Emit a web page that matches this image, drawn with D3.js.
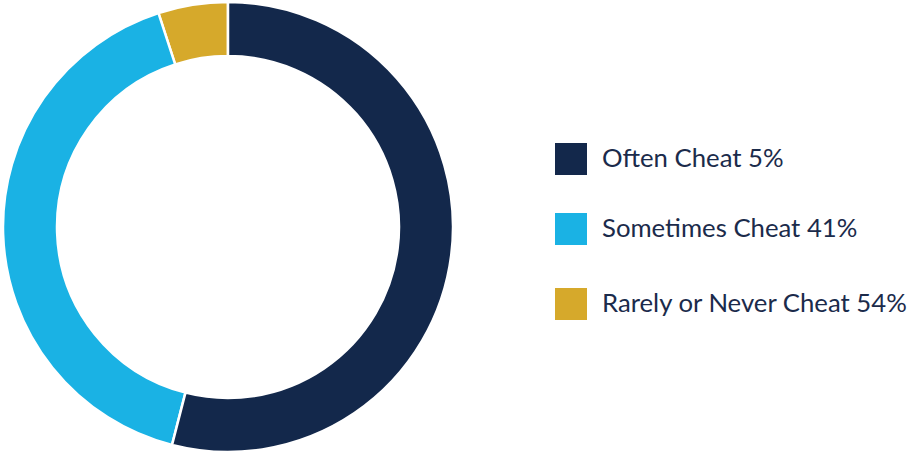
<!DOCTYPE html>
<html>
<head>
<meta charset="utf-8">
<script src="https://cdn.jsdelivr.net/npm/d3@7"></script>
<style>
  html, body { margin: 0; padding: 0; background: #ffffff; }
  svg { display: block; }
</style>
</head>
<body>
<svg id="chart" width="909" height="452"></svg>
<script>
// Survey shares
const categories = ["Often Cheat", "Sometimes Cheat", "Rarely or Never Cheat"];
const values = [5, 41, 54];
const legendColors = ["#13284b", "#1ab2e4", "#d6a92b"];
// Ring colours, one per category, as printed in the ring
const sliceColors = ["#d6a92b", "#1ab2e4", "#13284b"];

const svg = d3.select("#chart");
const cx = 228, cy = 227, outerR = 225, innerR = 171;

// Slices run counter-clockwise from twelve o'clock
const pie = d3.pie().sort(null).value(d => d).startAngle(0).endAngle(-2 * Math.PI);
const arc = d3.arc().innerRadius(innerR).outerRadius(outerR);

svg.append("g")
  .attr("transform", `translate(${cx},${cy})`)
  .selectAll("path")
  .data(pie(values))
  .join("path")
  .attr("d", arc)
  .attr("fill", (d, i) => sliceColors[i])
  .attr("stroke", "#ffffff")
  .attr("stroke-width", 2.5);

// Legend
const legendX = 555, sw = 32;
const rowTops = [143, 213, 288];
const legend = svg.append("g");
const rows = legend.selectAll("g")
  .data(categories)
  .join("g")
  .attr("transform", (d, i) => `translate(${legendX},${rowTops[i]})`);

rows.append("rect")
  .attr("width", sw).attr("height", sw)
  .attr("fill", (d, i) => legendColors[i]);

const labels = rows.append("text")
  .attr("x", 47)
  .attr("y", 24)
  .attr("fill", "#1b2b4b")
  .style("font-family", "Lato, 'Open Sans', sans-serif")
  .style("font-size", "24px")
  .text((d, i) => `${d} ${values[i]}%`);

// Size the labels so the longest one spans the legend width
const widest = d3.max(labels.nodes(), n => n.getComputedTextLength());
const fs = 24 * 305 / widest;
labels.style("font-size", fs + "px");
</script>
</body>
</html>
